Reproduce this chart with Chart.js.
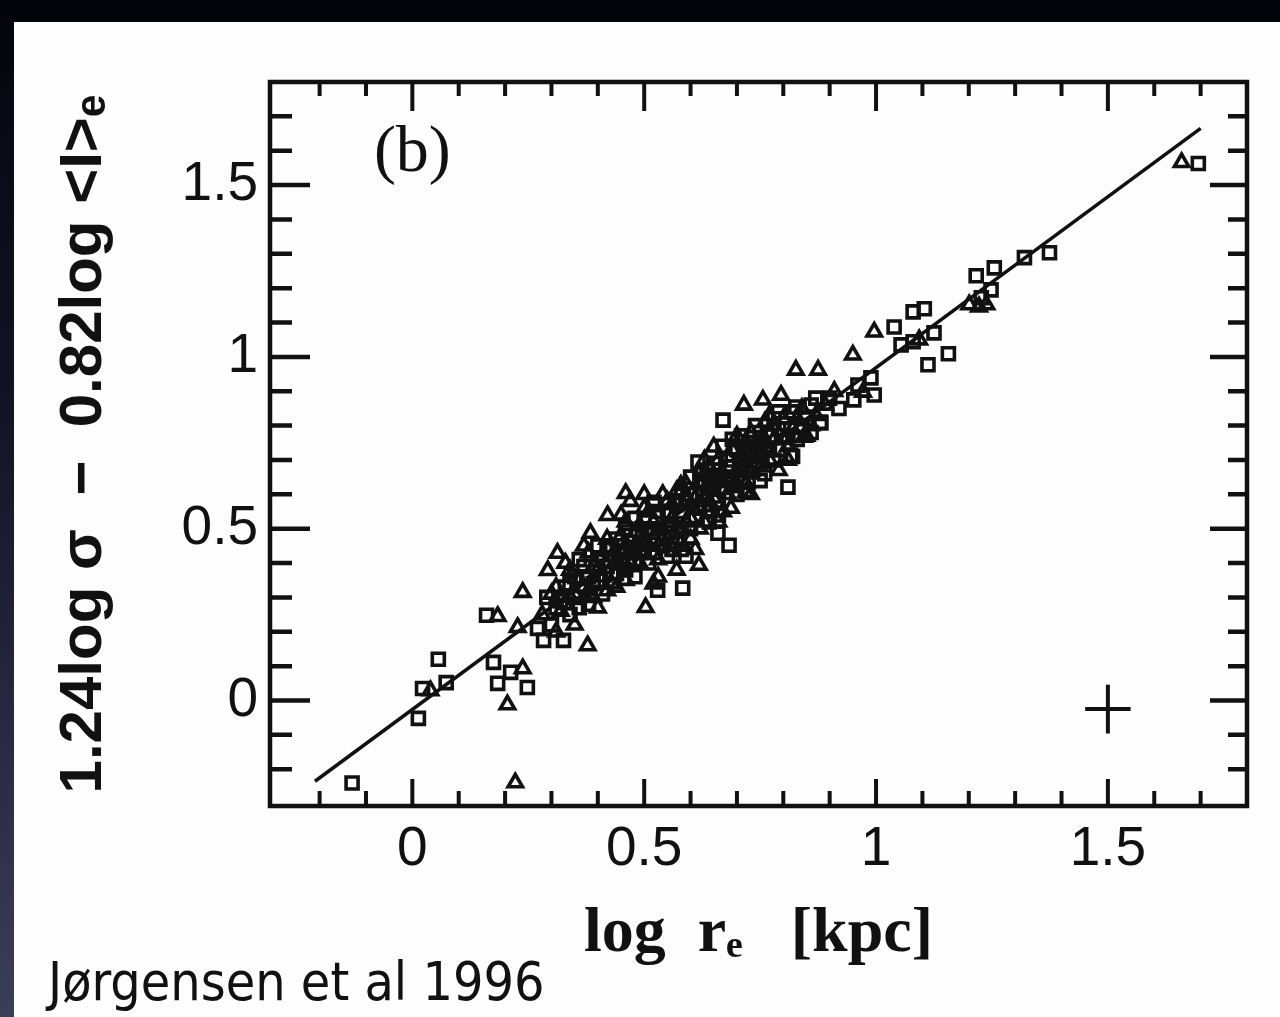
<!DOCTYPE html>
<html>
<head>
<title>Fundamental plane, edge-on</title>
<script src="https://cdn.jsdelivr.net/npm/chart.js"></script>
<style>
  html, body { margin: 0; padding: 0; }
  body { width: 1280px; height: 1017px; overflow: hidden; position: relative;
         background: linear-gradient(to bottom, #03040c 0%, #14162a 45%, #3b3e57 100%); }
  #sheet { position: absolute; left: 14px; top: 22px; right: 0; bottom: 0; background: #fdfdfd; }
  #top { position: absolute; left: 0; top: 0; width: 1280px; height: 22px; background: #03040c; }
  #fp { position: absolute; left: 0; top: 0; }
  #credit { position: absolute; left: 48px; top: 952px; font-family: "DejaVu Sans", sans-serif;
            font-size: 53px; line-height: 60px; color: #111; white-space: nowrap; transform-origin: 0 0; }
</style>
</head>
<body>
<div id="top"></div>
<div id="sheet"></div>
<canvas id="fp" width="1280" height="1017"></canvas>
<div id="credit">Jørgensen et al 1996</div>
<script>
// galaxies plotted as open squares
const squarePoints = [
  [-0.13, -0.24], [0.013, -0.052], [0.022, 0.035], [0.056, 0.12], [0.073, 0.052],
  [0.16, 0.248], [0.175, 0.111], [0.184, 0.05], [0.248, 0.038], [0.212, 0.082],
  [0.283, 0.175], [0.326, 0.175],
  [0.27, 0.21], [0.29, 0.30], [0.30, 0.22], [0.31, 0.27], [0.33, 0.33], [0.34, 0.25],
  [0.35, 0.36], [0.36, 0.30], [0.37, 0.39], [0.38, 0.28], [0.39, 0.34], [0.40, 0.41],
  [0.41, 0.31], [0.42, 0.44], [0.43, 0.37], [0.44, 0.47], [0.45, 0.40], [0.46, 0.50],
  [0.47, 0.43], [0.48, 0.36], [0.49, 0.46], [0.50, 0.52], [0.51, 0.40], [0.52, 0.49],
  [0.53, 0.55], [0.54, 0.45], [0.55, 0.51], [0.56, 0.44], [0.57, 0.57], [0.58, 0.50],
  [0.59, 0.42], [0.60, 0.60], [0.61, 0.53], [0.62, 0.66], [0.63, 0.57], [0.64, 0.62],
  [0.65, 0.69], [0.66, 0.58], [0.67, 0.74], [0.68, 0.64], [0.69, 0.70], [0.70, 0.60],
  [0.71, 0.77], [0.72, 0.67], [0.73, 0.73], [0.74, 0.80], [0.75, 0.71], [0.76, 0.66],
  [0.77, 0.77], [0.78, 0.82], [0.79, 0.73], [0.80, 0.79], [0.82, 0.84], [0.83, 0.76],
  [0.85, 0.82], [0.86, 0.86], [0.88, 0.81], [0.90, 0.88], [0.92, 0.85],
  [0.32, 0.29], [0.34, 0.34], [0.36, 0.27], [0.38, 0.36], [0.40, 0.35], [0.42, 0.39],
  [0.43, 0.45], [0.45, 0.43], [0.46, 0.38], [0.47, 0.48], [0.48, 0.53], [0.49, 0.43],
  [0.50, 0.44], [0.51, 0.50], [0.52, 0.43], [0.53, 0.50], [0.55, 0.55], [0.56, 0.49],
  [0.57, 0.46], [0.58, 0.55], [0.59, 0.58], [0.60, 0.50], [0.61, 0.60], [0.62, 0.56],
  [0.63, 0.63], [0.64, 0.55], [0.65, 0.62], [0.66, 0.67], [0.67, 0.62], [0.68, 0.68],
  [0.69, 0.65], [0.70, 0.73], [0.71, 0.64], [0.72, 0.71], [0.73, 0.68], [0.74, 0.74],
  [0.75, 0.78], [0.76, 0.73], [0.77, 0.73], [0.78, 0.70], [0.79, 0.79], [0.81, 0.77],
  [0.84, 0.80], [0.87, 0.88],
  [0.36, 0.41], [0.40, 0.45], [0.44, 0.37], [0.48, 0.41], [0.52, 0.57], [0.55, 0.42],
  [0.58, 0.44], [0.60, 0.65], [0.64, 0.52], [0.66, 0.54], [0.69, 0.76], [0.72, 0.61],
  [0.75, 0.64], [0.79, 0.84], [0.82, 0.71], [0.86, 0.78],
  [0.521, 0.577], [0.583, 0.327], [0.529, 0.321], [0.629, 0.641], [0.659, 0.487],
  [0.683, 0.452], [0.616, 0.694], [0.670, 0.816], [0.810, 0.621], [0.816, 0.714],
  [0.827, 0.854], [0.881, 0.808], [0.961, 0.918], [0.989, 0.939], [0.952, 0.875],
  [0.996, 0.889], [1.039, 1.087], [1.080, 1.131], [1.104, 1.140], [1.125, 1.070],
  [1.156, 1.009], [1.112, 0.977], [1.054, 1.035], [1.080, 1.044], [1.216, 1.236],
  [1.255, 1.259], [1.248, 1.195], [1.227, 1.172], [1.320, 1.289], [1.374, 1.303],
  [1.695, 1.563]
];

// galaxies plotted as open triangles
const trianglePoints = [
  [0.222, -0.239], [0.039, 0.029], [0.184, 0.245], [0.238, 0.093], [0.205, -0.012],
  [0.238, 0.315], [0.378, 0.160], [0.227, 0.213], [0.292, 0.379], [0.313, 0.429],
  [0.384, 0.487], [0.421, 0.539], [0.460, 0.603], [0.579, 0.627], [0.503, 0.271],
  [0.618, 0.394], [0.687, 0.560], [0.719, 0.606], [0.650, 0.738], [0.715, 0.860],
  [0.756, 0.875], [0.795, 0.889], [0.844, 0.767], [0.827, 0.962], [0.875, 0.962],
  [0.950, 1.006], [0.996, 1.073], [0.972, 0.898], [1.093, 1.050], [1.201, 1.152],
  [1.222, 1.146], [1.238, 1.152], [1.659, 1.566],
  [0.28, 0.25], [0.30, 0.31], [0.31, 0.20], [0.32, 0.26], [0.33, 0.40], [0.34, 0.30],
  [0.35, 0.22], [0.36, 0.35], [0.37, 0.45], [0.38, 0.32], [0.39, 0.39], [0.40, 0.27],
  [0.41, 0.36], [0.42, 0.47], [0.43, 0.42], [0.44, 0.33], [0.45, 0.54], [0.46, 0.44],
  [0.47, 0.58], [0.48, 0.49], [0.49, 0.40], [0.50, 0.47], [0.51, 0.55], [0.52, 0.34],
  [0.53, 0.45], [0.54, 0.60], [0.55, 0.47], [0.56, 0.53], [0.57, 0.38], [0.58, 0.61],
  [0.59, 0.52], [0.60, 0.57], [0.61, 0.44], [0.62, 0.63], [0.63, 0.52], [0.64, 0.68],
  [0.65, 0.59], [0.66, 0.64], [0.67, 0.55], [0.68, 0.71], [0.69, 0.62], [0.70, 0.67],
  [0.71, 0.72], [0.72, 0.63], [0.73, 0.78], [0.74, 0.69], [0.75, 0.75], [0.76, 0.81],
  [0.77, 0.70], [0.78, 0.76], [0.79, 0.67], [0.80, 0.82], [0.81, 0.74], [0.82, 0.79],
  [0.84, 0.85], [0.85, 0.77], [0.87, 0.83], [0.89, 0.86], [0.91, 0.90],
  [0.31, 0.33], [0.33, 0.28], [0.35, 0.31], [0.37, 0.33], [0.39, 0.30], [0.40, 0.38],
  [0.41, 0.42], [0.43, 0.34], [0.44, 0.41], [0.45, 0.48], [0.46, 0.52], [0.47, 0.40],
  [0.48, 0.45], [0.49, 0.51], [0.50, 0.56], [0.51, 0.45], [0.52, 0.52], [0.53, 0.41],
  [0.54, 0.50], [0.55, 0.58], [0.56, 0.57], [0.57, 0.50], [0.58, 0.46], [0.59, 0.63],
  [0.60, 0.53], [0.61, 0.59], [0.62, 0.50], [0.63, 0.66], [0.64, 0.58], [0.65, 0.64],
  [0.66, 0.70], [0.67, 0.66], [0.68, 0.60], [0.69, 0.73], [0.70, 0.63], [0.71, 0.68],
  [0.72, 0.75], [0.73, 0.66], [0.74, 0.72], [0.75, 0.68], [0.76, 0.76], [0.78, 0.80],
  [0.80, 0.76], [0.83, 0.82],
  [0.34, 0.38], [0.38, 0.43], [0.42, 0.32], [0.46, 0.35], [0.50, 0.60], [0.53, 0.36],
  [0.57, 0.61], [0.60, 0.47], [0.63, 0.70], [0.66, 0.52], [0.70, 0.77], [0.73, 0.60],
  [0.77, 0.83], [0.81, 0.70], [0.86, 0.80]
];

// best-fit relation
const fitLine = [[-0.21, -0.235], [1.70, 1.665]];

// typical error bar, drawn as a cross
const errX = [[1.451, -0.025], [1.549, -0.025]];
const errY = [[1.5, -0.096], [1.5, 0.046]];

const xMajor = [0, 0.5, 1, 1.5];
const yMajor = [0, 0.5, 1, 1.5];
const xMinor = [-0.2, -0.1, 0, 0.1, 0.2, 0.3, 0.4, 0.5, 0.6, 0.7, 0.8, 0.9, 1, 1.1, 1.2, 1.3, 1.4, 1.5, 1.6, 1.7];
const yMinor = [-0.2, -0.1, 0, 0.1, 0.2, 0.3, 0.4, 0.5, 0.6, 0.7, 0.8, 0.9, 1, 1.1, 1.2, 1.3, 1.4, 1.5, 1.6, 1.7];

const xy = pts => pts.map(p => ({ x: p[0], y: p[1] }));
const ink = '#111';

// box frame with inward ticks on all four sides, plus the panel letter
const frameTicks = {
  id: 'frameTicks',
  afterDatasetsDraw(chart) {
    const { ctx, chartArea: a, scales: { x, y } } = chart;
    ctx.save();
    ctx.strokeStyle = ink;
    ctx.lineCap = 'butt';
    ctx.lineWidth = 4;
    for (const v of xMinor) {
      const px = x.getPixelForValue(v);
      const big = xMajor.includes(v);
      ctx.beginPath();
      ctx.moveTo(px, a.top); ctx.lineTo(px, a.top + (big ? 29 : 14));
      ctx.moveTo(px, a.bottom); ctx.lineTo(px, a.bottom - (big ? 27 : 15));
      ctx.stroke();
    }
    ctx.lineWidth = 4.5;
    for (const v of yMinor) {
      const py = y.getPixelForValue(v);
      const big = yMajor.includes(v);
      ctx.beginPath();
      ctx.moveTo(a.left, py); ctx.lineTo(a.left + (big ? 40 : 22), py);
      ctx.moveTo(a.right, py); ctx.lineTo(a.right - (big ? 37 : 19), py);
      ctx.stroke();
    }
    ctx.lineWidth = 4.5;
    ctx.strokeRect(a.left, a.top, a.right - a.left, a.bottom - a.top);

    ctx.fillStyle = ink;
    ctx.font = '66px "Liberation Serif", serif';
    ctx.textAlign = 'center';
    ctx.textBaseline = 'middle';
    ctx.fillText('(b)', x.getPixelForValue(0.0), y.getPixelForValue(1.59));
    ctx.restore();
  }
};

const sansTicks = { family: '"Liberation Sans", sans-serif', size: 55 };

new Chart(document.getElementById('fp'), {
  type: 'scatter',
  data: {
    datasets: [
      { data: xy(squarePoints), pointStyle: 'rect', pointRadius: 8.5, borderWidth: 3.6,
        borderColor: ink, backgroundColor: 'rgba(0,0,0,0)' },
      { data: xy(trianglePoints), pointStyle: 'triangle', pointRadius: 8.3, borderWidth: 3.6,
        borderColor: ink, backgroundColor: 'rgba(0,0,0,0)' },
      { data: xy(fitLine), showLine: true, pointRadius: 0, borderWidth: 3.5, borderColor: ink },
      { data: xy(errX), showLine: true, pointRadius: 0, borderWidth: 4, borderColor: ink },
      { data: xy(errY), showLine: true, pointRadius: 0, borderWidth: 4, borderColor: ink }
    ]
  },
  options: {
    responsive: false,
    animation: false,
    devicePixelRatio: 1,
    layout: { padding: { left: 0, right: 33, top: 82, bottom: 0 } },
    plugins: { legend: { display: false }, tooltip: { enabled: false } },
    scales: {
      x: {
        type: 'linear', min: -0.307, max: 1.80,
        grid: { display: false, drawTicks: false },
        border: { display: false },
        afterBuildTicks: s => { s.ticks = xMajor.map(v => ({ value: v })); },
        afterFit: s => { s.height = 211; },
        ticks: { color: ink, font: sansTicks, padding: 11, callback: v => String(v), maxRotation: 0 },
        title: { display: true, text: 'log  rₑ   [kpc]', color: ink,
                 font: { family: '"Liberation Serif", serif', size: 64, weight: 'bold' },
                 padding: { top: 0, bottom: 44 } }
      },
      y: {
        type: 'linear', min: -0.307, max: 1.80,
        grid: { display: false, drawTicks: false },
        border: { display: false },
        afterBuildTicks: s => { s.ticks = yMajor.map(v => ({ value: v })); },
        afterFit: s => { s.width = 270; },
        ticks: { color: ink, font: sansTicks, padding: 12, callback: v => String(v) },
        title: { display: true, text: '1.24log σ  −  0.82log <I>ₑ', color: ink,
                 font: { family: '"Liberation Sans", sans-serif', size: 60, weight: 'bold' },
                 padding: { top: 48, bottom: 0 } }
      }
    }
  },
  plugins: [frameTicks]
});

// squeeze the credit line to its printed width
const credit = document.getElementById('credit');
credit.style.transform = 'scaleX(' + (497 / credit.offsetWidth).toFixed(3) + ')';
</script>
</body>
</html>
